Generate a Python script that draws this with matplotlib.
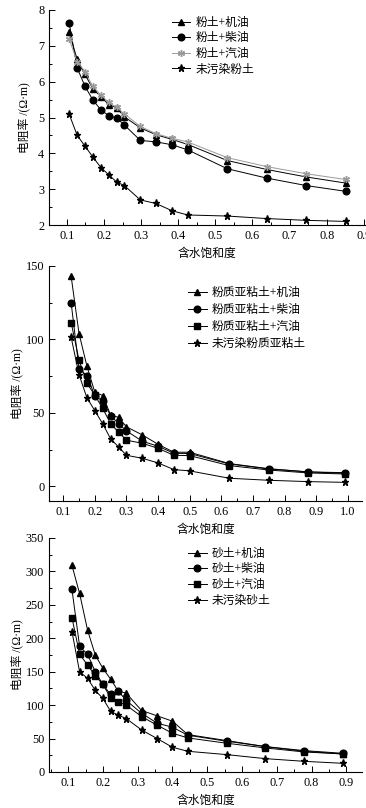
import numpy as np
import matplotlib
matplotlib.use("Agg")
import matplotlib.pyplot as plt
from matplotlib.ticker import MultipleLocator

plt.rcParams['font.family'] = ['Liberation Serif', 'Noto Sans CJK SC']
plt.rcParams['axes.unicode_minus'] = False

# ---- panel 1: silt (粉土) ----
x1 = [0.106, 0.128, 0.149, 0.170, 0.192, 0.213, 0.234, 0.255,
      0.298, 0.340, 0.383, 0.425, 0.532, 0.638, 0.745, 0.851]
silt_engine = [7.38, 6.62, 6.2, 5.8, 5.58, 5.36, 5.27, 5.02,
               4.71, 4.52, 4.39, 4.25, 3.8, 3.55, 3.34, 3.17]
silt_diesel = [7.65, 6.38, 5.87, 5.49, 5.21, 5.05, 4.99, 4.79,
               4.36, 4.32, 4.24, 4.10, 3.57, 3.31, 3.10, 2.94]
silt_petrol = [7.2, 6.55, 6.28, 5.87, 5.62, 5.42, 5.28, 5.1,
               4.75, 4.55, 4.42, 4.32, 3.88, 3.63, 3.43, 3.27]
silt_clean = [5.1, 4.5, 4.2, 3.9, 3.6, 3.4, 3.2, 3.1,
              2.7, 2.6, 2.4, 2.28, 2.25, 2.18, 2.13, 2.1]
labels1 = ["粉土+机油", "粉土+柴油", "粉土+汽油", "未污染粉土"]

# ---- panel 2: silty loam (粉质亚粘土) ----
x2 = [0.125, 0.15, 0.175, 0.2, 0.225, 0.25, 0.275, 0.3,
      0.35, 0.4, 0.45, 0.5, 0.625, 0.75, 0.875, 0.99]
loam_engine = [143, 104, 81.8, 64, 61.8, 48.4, 47, 40.5,
               35, 28.6, 23.2, 23.2, 15.5, 12, 9.8, 8.9]
loam_diesel = [125, 80, 75.4, 61.5, 58, 48.2, 42.7, 37.7,
               30.7, 27.3, 22.5, 22.3, 15.2, 11.8, 9.8, 9.3]
loam_petrol = [111.5, 86, 70.2, 62, 53, 42.5, 37, 31.4,
               29.3, 25.9, 21.1, 20.9, 14.1, 11.1, 9.1, 8.4]
loam_clean = [101.5, 76, 60.2, 51.5, 42.5, 32.3, 26.8, 21.1,
              19.1, 15.9, 11.4, 10.5, 5.5, 4.1, 3.2, 2.7]
labels2 = ["粉质亚粘土+机油", "粉质亚粘土+柴油", "粉质亚粘土+汽油", "未污染粉质亚粘土"]

# ---- panel 3: sand (砂土) ----
x3 = [0.111, 0.133, 0.156, 0.178, 0.2, 0.222, 0.244, 0.267,
      0.311, 0.356, 0.4, 0.444, 0.556, 0.667, 0.778, 0.889]
sand_engine = [309, 267, 212, 175, 155, 139, 121, 118,
               92, 84, 76, 56, 47, 38, 31, 27]
sand_diesel = [273, 188, 176, 150, 131, 116, 121, 107,
               88, 73, 67, 55, 46, 38, 32, 28]
sand_petrol = [231, 176, 160, 144, 131, 111, 105, 100,
               83, 70, 58, 51, 43, 36, 30, 27]
sand_clean = [210, 150, 140, 122, 110, 91, 85, 80,
              63, 50, 37, 31, 26, 20, 16, 13]
labels3 = ["砂土+机油", "砂土+柴油", "砂土+汽油", "未污染砂土"]

W, H = 366, 808
fig = plt.figure(figsize=(W / 100, H / 100), dpi=100)


def make_ax(left, top, right, bottom):
    return fig.add_axes([left / W, 1 - bottom / H, (right - left) / W, (bottom - top) / H])


def style(ax, xlim, ylim, xmaj, xmin, ymaj, ymin, ylab_x):
    ax.set_xlim(*xlim)
    ax.set_ylim(*ylim)
    ax.xaxis.set_major_locator(MultipleLocator(xmaj))
    ax.xaxis.set_minor_locator(MultipleLocator(xmin))
    ax.yaxis.set_major_locator(MultipleLocator(ymaj))
    ax.yaxis.set_minor_locator(MultipleLocator(ymin))
    for s in ["top", "right"]:
        ax.spines[s].set_visible(False)
    for s in ["left", "bottom"]:
        ax.spines[s].set_linewidth(0.8)
    ax.tick_params(which="both", direction="in", width=0.7, labelsize=8.8)
    ax.tick_params(which="major", length=4)
    ax.tick_params(which="minor", length=2.5)
    ax.set_xlabel("含水饱和度", fontsize=8.5, labelpad=4.5)
    ax.set_ylabel("电阻率 /(Ω·m)", fontsize=8.5)
    ax.yaxis.set_label_coords(ylab_x, 0.5)


def draw(ax, x, series, labels, styles, legend_xy, spacing):
    for y, lab, (m, ms, c) in zip(series, labels, styles):
        ax.plot(x, y, color=c, lw=0.7, marker=m, markersize=ms,
                markerfacecolor=c, markeredgecolor=c, label=lab)
    ax.legend(loc="upper left", bbox_to_anchor=legend_xy, frameon=False,
              fontsize=8.5, handlelength=1.6, handletextpad=0.4,
              labelspacing=spacing, borderaxespad=0)


ast = (6, 2, 0)
st1 = [("^", 4.8, "black"), ("o", 4.8, "black"), (ast, 5, "#9a9a9a"), ("*", 5.2, "black")]
st2 = [("^", 4.8, "black"), ("o", 4.8, "black"), ("s", 4.2, "black"), ("*", 5.2, "black")]

ax1 = make_ax(49, 10, 365, 225)
draw(ax1, x1, [silt_engine, silt_diesel, silt_petrol, silt_clean], labels1, st1,
     (0.373, 0.99), 0.3)
style(ax1, (0.052, 0.903), (2, 8), 0.1, 0.05, 1, 0.5, -0.06)

ax2 = make_ax(49, 266, 362, 501)
draw(ax2, x2, [loam_engine, loam_diesel, loam_petrol, loam_clean], labels2, st2,
     (0.428, 0.93), 0.42)
style(ax2, (0.055, 1.045), (-10, 150), 0.1, 0.05, 50, 25, -0.083)

ax3 = make_ax(49, 538, 362, 772)
draw(ax3, x3, [sand_engine, sand_diesel, sand_petrol, sand_clean], labels3, st2,
     (0.428, 0.979), 0.32)
style(ax3, (0.045, 0.945), (0, 350), 0.1, 0.05, 50, 25, -0.083)

fig.savefig("out.png", dpi=100)
